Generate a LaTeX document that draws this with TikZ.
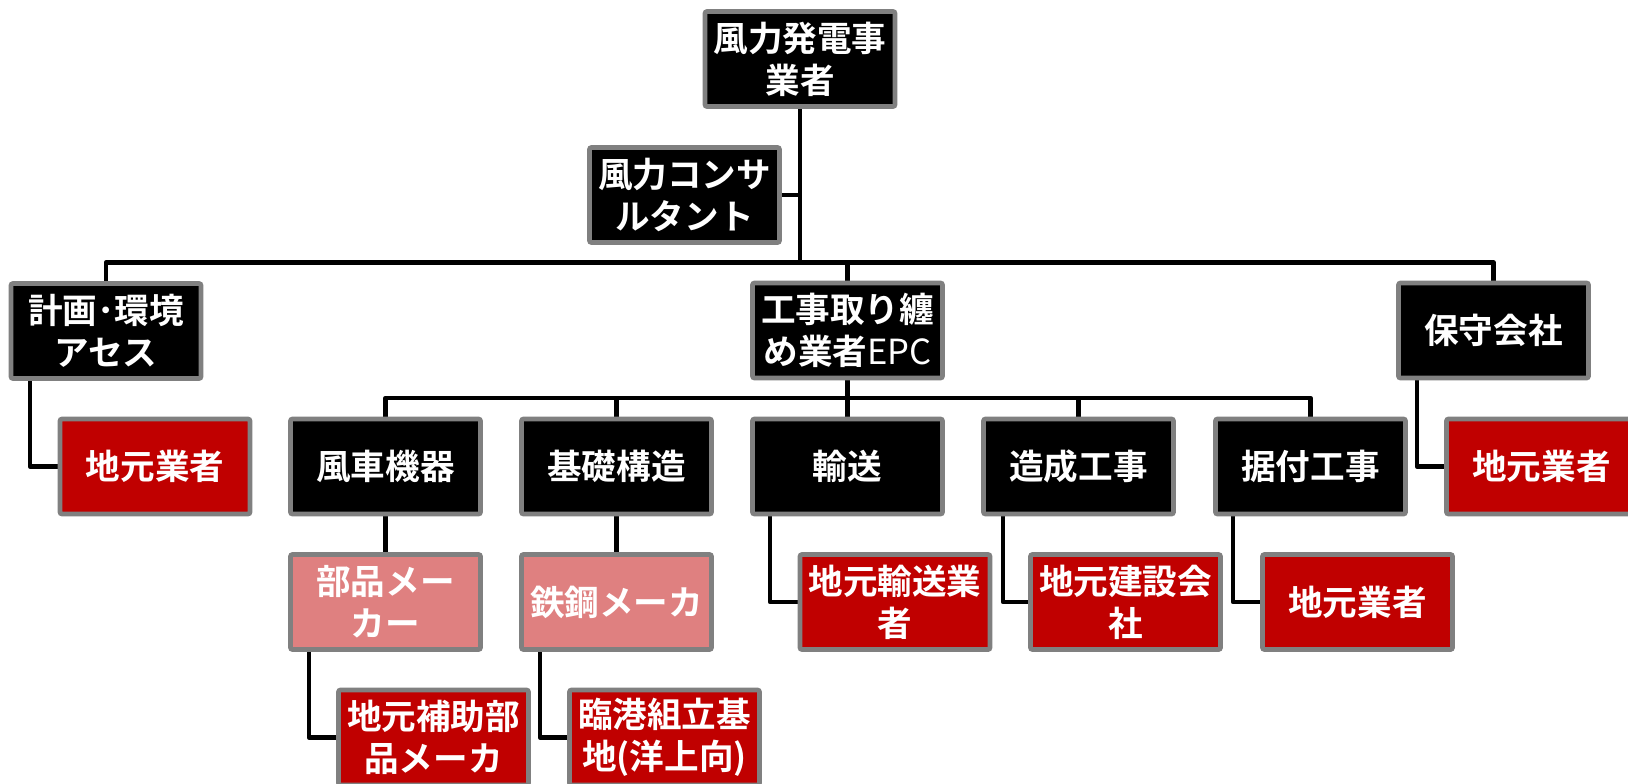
\documentclass[tikz,border=0pt]{standalone}
\usepackage{fontspec}
\setmainfont{Noto Sans CJK JP}[BoldFont={* Bold}]
\usetikzlibrary{backgrounds}
\definecolor{boxgray}{RGB}{128,128,128}
\definecolor{locred}{RGB}{192,0,0}
\definecolor{pink}{RGB}{223,128,128}
\tikzset{
  orgbox/.style={draw=boxgray, line width=2.35pt, rounded corners=1pt,
    minimum width=95pt, minimum height=47.5pt, inner sep=0pt,
    text=white, align=center, font=\fontsize{17.3}{21}\selectfont\bfseries},
  blackbox/.style={orgbox, fill=black},
  redbox/.style={orgbox, fill=locred},
  pinkbox/.style={orgbox, fill=pink},
  link/.style={draw=black, line width=2.35pt, line join=round}
}
\begin{document}
\begin{tikzpicture}[x=0.5pt,y=-0.5pt]
\useasboundingbox (0,0) rectangle (1628,783);
% nodes
\node[blackbox] (top) at (800,59) {風力発電事\\業者};
\node[blackbox] (cons) at (684.5,195) {風力コンサ\\ルタント};
\node[blackbox] (kei) at (106,331) {計画･環境\\アセス};
\node[blackbox] (epc) at (847.5,330.5) {工事取り纏\\め業者{\mdseries EPC}};
\node[blackbox] (hosyu) at (1493.5,330.5) {保守会社};
\node[redbox] (loc1) at (155,466.5) {地元業者};
\node[blackbox] (fusha) at (385.5,466.5) {風車機器};
\node[blackbox] (kiso) at (616.5,466.5) {基礎構造};
\node[blackbox] (yuso) at (847.5,466.5) {輸送};
\node[blackbox] (zosei) at (1078.5,466.5) {造成工事};
\node[blackbox] (suetsuke) at (1310.5,466.5) {据付工事};
\node[redbox] (loc2) at (1541.5,466.5) {地元業者};
\node[pinkbox] (buhin) at (385.5,602) {部品メー\\カー};
\node[pinkbox] (tekko) at (616.5,602) {鉄鋼メーカ};
\node[redbox] (locy) at (895,602) {地元輸送業\\者};
\node[redbox] (locc) at (1125.5,602) {地元建設会\\社};
\node[redbox] (locs) at (1357.5,602) {地元業者};
\node[redbox] (hojo) at (433.5,737.5) {地元補助部\\品メーカ};
\node[redbox] (rinko) at (664.5,737.5) {臨港組立基\\地(洋上向)};
% helper coordinates
\coordinate (b1) at (800,262.5);
\coordinate (b2) at (847.5,398);
\coordinate (t1) at (30,0);
\coordinate (t2) at (1417,0);
\coordinate (t3) at (309,0);
\coordinate (t4) at (540,0);
\coordinate (t5) at (770,0);
\coordinate (t6) at (1003,0);
\coordinate (t7) at (1233,0);
\begin{pgfonlayer}{background}
\draw[link] (top.south) -- (b1);
\draw[link] (cons.east) -- (cons.east -| b1);
\draw[link] (kei.north) |- (b1) -| (hosyu.north);
\draw[link] (epc.north) -- (epc.north |- b1);
\draw[link] (epc.south) -- (b2);
\draw[link] (fusha.north) |- (b2) -| (suetsuke.north);
\draw[link] (kiso.north) -- (kiso.north |- b2);
\draw[link] (yuso.north) -- (yuso.north |- b2);
\draw[link] (zosei.north) -- (zosei.north |- b2);
\draw[link] (t1 |- kei.south) |- (loc1.west);
\draw[link] (t2 |- hosyu.south) |- (loc2.west);
\draw[link] (fusha.south) -- (buhin.north);
\draw[link] (kiso.south) -- (tekko.north);
\draw[link] (t3 |- buhin.south) |- (hojo.west);
\draw[link] (t4 |- tekko.south) |- (rinko.west);
\draw[link] (t5 |- yuso.south) |- (locy.west);
\draw[link] (t6 |- zosei.south) |- (locc.west);
\draw[link] (t7 |- suetsuke.south) |- (locs.west);
\end{pgfonlayer}
\end{tikzpicture}
\end{document}
